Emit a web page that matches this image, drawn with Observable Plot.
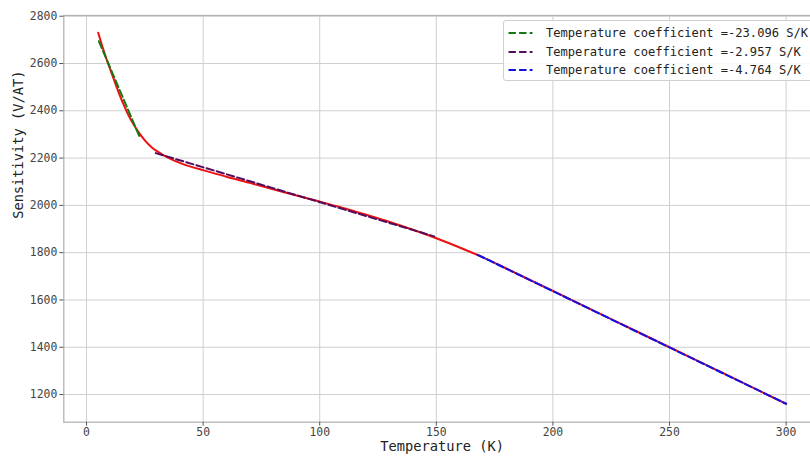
<!DOCTYPE html>
<html>
<head>
<meta charset="utf-8">
<script src="https://cdn.jsdelivr.net/npm/d3@7"></script>
<script src="https://cdn.jsdelivr.net/npm/@observablehq/plot@0.6"></script>
<style>
  html, body { margin: 0; padding: 0; background: #fff; width: 810px; height: 456px; overflow: hidden; }
  #wrap { position: relative; width: 810px; height: 456px; overflow: hidden; }
  #legend { position: absolute; left: 503px; top: 20px; width: 311px; height: 61px; box-sizing: border-box;
    border: 1px solid #d0d0d0; border-radius: 3px; background: rgba(255,255,255,0.85);
    font-family: "DejaVu Sans Mono", monospace; font-size: 12.1px; color: #222; }
  .row { position: absolute; left: 4px; height: 18px; display: flex; align-items: center; white-space: nowrap; }
  .row svg { margin-right: 13px; }
</style>
</head>
<body>
<div id="wrap"><div id="legend"></div></div>
<script>
// Measured red curve: temperature (K) and sensitivity (V/AT)
const temperature = [5, 6, 7, 8, 9, 10, 12, 14, 16, 18, 20, 22, 25, 28, 32, 36, 40, 45, 50, 60, 70, 80, 90, 100, 110, 120, 130, 140, 150, 160, 170, 180, 200, 225, 250, 275, 300];
const sensitivity = [2730, 2697, 2665, 2635, 2607, 2580, 2525, 2472, 2424, 2381, 2345, 2314, 2275, 2245, 2218, 2197, 2180, 2163, 2149, 2121, 2095, 2068, 2042, 2016, 1989, 1960, 1930, 1897, 1861, 1822, 1780, 1733, 1638, 1519, 1400, 1281, 1161];

// Linear fits (dashed): end points
const fitNames = ["Temperature coefficient =-23.096 S/K", "Temperature coefficient =-2.957 S/K", "Temperature coefficient =-4.764 S/K"];
const fitT0 = [5.3, 29.7, 167.7];
const fitT1 = [23.1, 149.1, 300];
const fitS0 = [2694, 2221, 1791];
const fitS1 = [2282, 1869, 1161];

const xTicks = [0, 50, 100, 150, 200, 250, 300];
const yTicks = [1200, 1400, 1600, 1800, 2000, 2200, 2400, 2600, 2800];

const fitColors = ["#137a13", "#530c5e", "#1010e0"];
const dash = "7.4,3.2";
const FONT = "DejaVu Sans Mono";

const curve = temperature.map((t, i) => ({T: t, S: sensitivity[i]}));
const fits = fitNames.map((name, i) => [
  {T: fitT0[i], S: fitS0[i], name},
  {T: fitT1[i], S: fitS1[i], name}
]);

const plot = Plot.plot({
  width: 830,
  height: 456,
  marginLeft: 63.3,
  marginRight: 10,
  marginTop: 15,
  marginBottom: 34.3,
  style: { fontFamily: FONT, fontSize: "11.4px", color: "#444", background: "#fff", maxWidth: "none" },
  x: { domain: [-9.75, 314.75], ticks: xTicks },
  y: { domain: [1083, 2803], ticks: yTicks },
  marks: [
    Plot.gridX(xTicks, { stroke: "#cfcfcf", strokeOpacity: 1, strokeWidth: 1 }),
    Plot.gridY(yTicks, { stroke: "#cfcfcf", strokeOpacity: 1, strokeWidth: 1 }),
    Plot.frame({ stroke: "#b4b4b4", strokeWidth: 1.3 }),
    Plot.axisX(xTicks, { tickSize: 4, tickPadding: 1.5, label: null, stroke: "#555", fill: "#444", fontFamily: FONT, fontSize: 11.4, tickFormat: d => String(d) }),
    Plot.axisY(yTicks, { tickSize: 4, tickPadding: 2.5, label: null, stroke: "#555", fill: "#444", fontFamily: FONT, fontSize: 11.4, tickFormat: d => String(d) }),
    Plot.text(["Temperature (K)"], { frameAnchor: "bottom", dy: 28.5, fontSize: 13.7, fontFamily: FONT, fill: "#222" }),
    Plot.text(["Sensitivity (V/AT)"], { frameAnchor: "left", dx: -45, rotate: -90, fontSize: 13.7, fontFamily: FONT, fill: "#222" }),
    Plot.line(curve, { x: "T", y: "S", stroke: "#ee1111", strokeWidth: 2, curve: "monotone-x" }),
    ...fits.map((f, i) => Plot.line(f, { x: "T", y: "S", stroke: fitColors[i], strokeWidth: 2, strokeDasharray: dash }))
  ]
});
plot.style.maxWidth = "none";
plot.style.position = "absolute";
plot.style.left = "0px";
plot.style.top = "0px";
document.getElementById("wrap").insertBefore(plot, document.getElementById("legend"));

const legend = document.getElementById("legend");
const rowTops = [3, 21.5, 40];
fitNames.forEach((name, i) => {
  const row = document.createElement("div");
  row.className = "row";
  row.style.top = rowTops[i] + "px";
  row.innerHTML = `<svg width="25" height="6"><line x1="0.5" y1="3" x2="24.5" y2="3" stroke="${fitColors[i]}" stroke-width="2" stroke-dasharray="${dash}"/></svg>`;
  const span = document.createElement("span");
  span.textContent = name;
  row.appendChild(span);
  legend.appendChild(row);
});
</script>
</body>
</html>
